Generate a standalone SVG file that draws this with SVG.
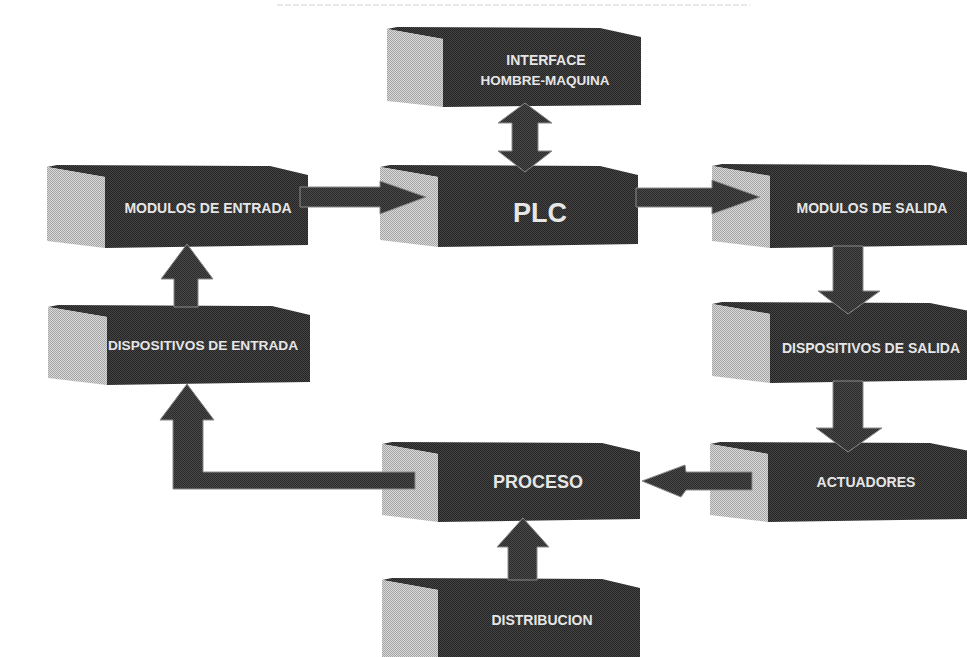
<svg xmlns="http://www.w3.org/2000/svg" width="967" height="657" viewBox="0 0 967 657">
  <defs>
    <!-- halftone fills -->
    <pattern id="dark" width="2" height="2" patternUnits="userSpaceOnUse">
      <rect width="2" height="2" fill="#454545"/>
      <rect width="1" height="1" fill="#242424"/>
      <rect x="1" y="1" width="1" height="1" fill="#242424"/>
    </pattern>
    <pattern id="light" width="2" height="2" patternUnits="userSpaceOnUse">
      <rect width="2" height="2" fill="#dadada"/>
      <rect width="1" height="1" fill="#a4a4a4"/>
      <rect x="1" y="1" width="1" height="1" fill="#a4a4a4"/>
    </pattern>
    <pattern id="arrowFill" width="2" height="2" patternUnits="userSpaceOnUse">
      <rect width="2" height="2" fill="#4a4a4a"/>
      <rect width="1" height="1" fill="#2a2a2a"/>
      <rect x="1" y="1" width="1" height="1" fill="#2a2a2a"/>
    </pattern>
    <style>
      .side { fill: url(#light); }
      .front { fill: url(#dark); }
      .lbl { font-family: "Liberation Sans", Arial, sans-serif; font-weight: bold; fill: #e6e6e6; text-anchor: middle; }
      .arrow { fill: url(#arrowFill); stroke: #8a8a8a; stroke-width: 1; stroke-linejoin: miter; }
    </style>
  </defs>

  <rect width="967" height="657" fill="#ffffff"/>
  <!-- clipped heading rule -->
  <line x1="277" y1="5" x2="750" y2="5" stroke="#e2e2e2" stroke-width="1.5" stroke-dasharray="6 2"/>

  <!-- blocks -->
  <g id="interface">
    <polygon class="front" points="387,29 397,27 600,28 641,37 641,105 443,107 443,39"/>
    <polygon class="side" points="387,29 443,39 443,107 387,101"/>
    <text class="lbl" x="546" y="65" font-size="14">INTERFACE</text>
    <text class="lbl" x="545" y="85" font-size="13.5">HOMBRE-MAQUINA</text>
  </g>

  <g id="modulos-entrada">
    <polygon class="front" points="47,167 57,165 270,166 308,175 308,245 105,248 105,177"/>
    <polygon class="side" points="47,167 105,177 105,248 47,241"/>
    <text class="lbl" x="208" y="213" font-size="14">MODULOS DE ENTRADA</text>
  </g>

  <g id="plc">
    <polygon class="front" points="380,167 390,165 600,166 638,175 638,244 438,247 438,177"/>
    <polygon class="side" points="380,167 438,177 438,247 380,240"/>
    <text class="lbl" x="540" y="222" font-size="27">PLC</text>
  </g>

  <g id="modulos-salida">
    <polygon class="front" points="712,166 722,164 930,165 975,174 975,245 770,248 770,176"/>
    <polygon class="side" points="712,166 770,176 770,248 712,241"/>
    <text class="lbl" x="872" y="213" font-size="14">MODULOS DE SALIDA</text>
  </g>

  <g id="dispositivos-salida">
    <polygon class="front" points="712,304 722,302 930,303 975,312 975,380 770,383 770,314"/>
    <polygon class="side" points="712,304 770,314 770,383 712,376"/>
    <text class="lbl" x="871" y="353" font-size="14">DISPOSITIVOS DE SALIDA</text>
  </g>

  <g id="dispositivos-entrada">
    <polygon class="front" points="48,307 58,305 272,306 310,315 310,382 107,385 107,317"/>
    <polygon class="side" points="48,307 107,317 107,385 48,378"/>
    <text class="lbl" x="203" y="350" font-size="13.7">DISPOSITIVOS DE ENTRADA</text>
  </g>

  <g id="proceso">
    <polygon class="front" points="382,444 392,442 602,443 640,452 640,519 438,522 438,454"/>
    <polygon class="side" points="382,444 438,454 438,522 382,515"/>
    <text class="lbl" x="538" y="488" font-size="18">PROCESO</text>
  </g>

  <g id="actuadores">
    <polygon class="front" points="710,444 720,442 930,443 975,452 975,519 768,522 768,454"/>
    <polygon class="side" points="710,444 768,454 768,522 710,515"/>
    <text class="lbl" x="866" y="487" font-size="14">ACTUADORES</text>
  </g>

  <g id="distribucion">
    <polygon class="front" points="382,580 392,578 602,579 640,588 640,665 438,665 438,590"/>
    <polygon class="side" points="382,580 438,590 438,665 382,665"/>
    <text class="lbl" x="542" y="625" font-size="14">DISTRIBUCION</text>
  </g>

  <!-- connectors -->
  <g id="connectors">
    <!-- interface <-> plc -->
    <polygon class="arrow" points="525,103 552,123 538,123 538,151 552,151 525,172 498,151 512,151 512,123 498,123"/>
    <!-- modulos de entrada -> plc -->
    <polygon class="arrow" points="300,187 380,187 380,181 426,197 380,214 380,207 300,207"/>
    <!-- plc -> modulos de salida -->
    <polygon class="arrow" points="636,188 712,188 712,180 760,197 712,214 712,207 636,207"/>
    <!-- modulos de salida -> dispositivos de salida -->
    <polygon class="arrow" points="833,246 863,246 863,291 880,291 848,314 818,291 833,291"/>
    <!-- dispositivos de salida -> actuadores -->
    <polygon class="arrow" points="833,381 863,381 863,428 882,428 848,452 816,428 833,428"/>
    <!-- actuadores -> proceso -->
    <polygon class="arrow" points="752,472 686,472 685,465 642,481 681,497 686,490 752,490"/>
    <!-- proceso -> dispositivos de entrada -->
    <polygon class="arrow" points="415,472 203,472 203,420 214,420 187,384 160,420 173,420 173,489 415,489"/>
    <!-- dispositivos de entrada -> modulos de entrada -->
    <polygon class="arrow" points="174,307 174,279 161,279 187,244 213,279 198,279 198,307"/>
    <!-- distribucion -> proceso -->
    <polygon class="arrow" points="508,580 508,547 497,547 523,518 549,547 537,547 537,580"/>
  </g>
</svg>
